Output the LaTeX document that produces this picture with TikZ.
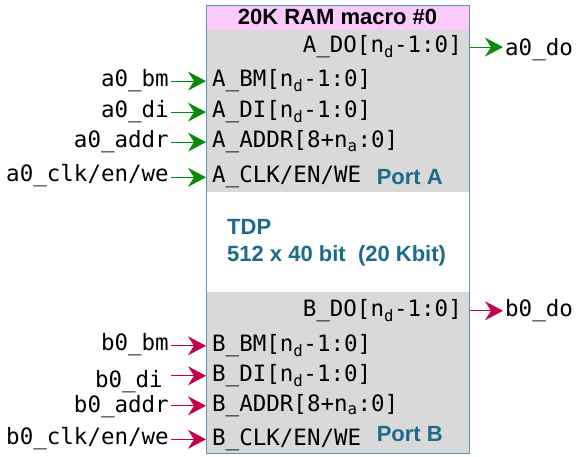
\documentclass[tikz,border=0pt]{standalone}
\usepackage{fontspec}
\setmainfont{Liberation Sans}
\setmonofont{DejaVu Sans Mono}
\usetikzlibrary{positioning, arrows.meta}
\definecolor{wireA}{HTML}{0A8A0A}
\definecolor{wireB}{HTML}{C2004E}
\definecolor{teal}{HTML}{1C6B8A}
\definecolor{edge}{HTML}{5A95B0}
\definecolor{titlepink}{HTML}{FACBFA}
\definecolor{bandgrey}{HTML}{D9D9D9}

\begin{document}
\begin{tikzpicture}[x=1pt, y=-1pt]
    % Styles
    \tikzstyle{sig}=[font=\fontsize{22.5}{26}\selectfont\ttfamily, inner sep=2pt]
    \tikzstyle{pin}=[sig, anchor=base west]
    \tikzstyle{pout}=[sig, anchor=base east]
    \tikzstyle{info}=[font=\fontsize{22}{26}\selectfont\bfseries, text=teal, inner sep=0pt]
    \tikzstyle{arrowA}=[-{Stealth[length=18pt, width=19pt, inset=6pt]}, line width=1.2pt, draw=wireA, color=wireA]
    \tikzstyle{arrowB}=[-{Stealth[length=18pt, width=19pt, inset=6pt]}, line width=1.2pt, draw=wireB, color=wireB]

    \useasboundingbox (0,0) rectangle (576,457);

    % Macro box and bands
    \fill[titlepink] (206,5) rectangle (469,30);
    \fill[bandgrey] (206,30) rectangle (469,192);
    \fill[bandgrey] (206,292) rectangle (469,453);
    \node[draw=edge, line width=1.2pt, minimum width=263, minimum height=448, anchor=north west, inner sep=0pt] (macro) at (206,5) {};
    \node[font=\fontsize{22}{26}\selectfont\bfseries, anchor=base, inner sep=0pt] (title) at (337.5,25) {20K RAM macro \#0};

    % Port A pins
    \node[pout] (ado) at (464,53) {A\_DO[n\textsubscript{d}-1:0]};
    \node[pin] (abm) at (210,87) {A\_BM[n\textsubscript{d}-1:0]};
    \node[pin] (adi) at (210,118) {A\_DI[n\textsubscript{d}-1:0]};
    \node[pin] (aaddr) at (210,148) {A\_ADDR[8+n\textsubscript{a}:0]};
    \node[pin] (aclk) at (210,183) {A\_CLK/EN/WE};
    \node[info, anchor=base east] (porta) at (443,185) {Port A};

    % Middle text
    \node[info, anchor=base west] (tdp) at (227,235) {TDP};
    \node[info, anchor=base west] (size) at (227,261.7) {512 x 40 bit\ \ (20 Kbit)};

    % Port B pins
    \node[pout] (bdo) at (464,316.7) {B\_DO[n\textsubscript{d}-1:0]};
    \node[pin] (bbm) at (210,351.7) {B\_BM[n\textsubscript{d}-1:0]};
    \node[pin] (bdi) at (210,381.7) {B\_DI[n\textsubscript{d}-1:0]};
    \node[pin] (baddr) at (210,411.7) {B\_ADDR[8+n\textsubscript{a}:0]};
    \node[pin] (bclk) at (210,445) {B\_CLK/EN/WE};
    \node[info, anchor=base east] (portb) at (443,441.7) {Port B};

    % Signals outside
    \node[pin] (a0do) at (503,56) {a0\_do};
    \node[pout] (a0bm) at (171,87) {a0\_bm};
    \node[pout] (a0di) at (171,118) {a0\_di};
    \node[pout] (a0addr) at (171,148) {a0\_addr};
    \node[pout] (a0clk) at (171,182) {a0\_clk/en/we};

    \node[pin] (b0do) at (503,316.7) {b0\_do};
    \node[pout] (b0bm) at (171,350.7) {b0\_bm};
    \node[pout] (b0di) at (165,387) {b0\_di};
    \node[pout] (b0addr) at (171,412.7) {b0\_addr};
    \node[pout] (b0clk) at (171,444) {b0\_clk/en/we};

    % Connectors port A
    \draw[arrowA] (macro.east |- ado) -- (a0do.west |- ado);
    \draw[arrowA] (a0bm.east |- abm) -- (macro.west |- abm);
    \draw[arrowA] (a0di.east |- adi) -- (macro.west |- adi);
    \draw[arrowA] (a0addr.east |- aaddr) -- (macro.west |- aaddr);
    \draw[arrowA] (a0clk.east |- aclk) -- (macro.west |- aclk);

    % Connectors port B
    \draw[arrowB] (macro.east |- bdo) -- (b0do.west |- bdo);
    \draw[arrowB] (b0bm.east |- bbm) -- (macro.west |- bbm);
    \draw[arrowB] ([xshift=6pt]b0di.east |- bdi) -- (macro.west |- bdi);
    \draw[arrowB] (b0addr.east |- baddr) -- (macro.west |- baddr);
    \draw[arrowB] (b0clk.east |- bclk) -- (macro.west |- bclk);
\end{tikzpicture}
\end{document}
